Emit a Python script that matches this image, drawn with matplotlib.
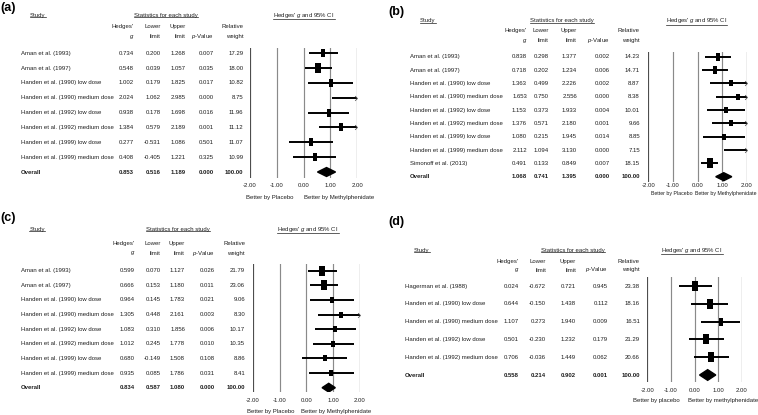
import matplotlib
matplotlib.use("Agg")
import matplotlib.pyplot as plt
import matplotlib.transforms as mtransforms
from matplotlib.path import Path
from matplotlib.lines import Line2D
import numpy as np

plt.rcParams['font.family'] = ['Liberation Sans', 'DejaVu Sans']
plt.rcParams['mathtext.fontset'] = 'custom'
plt.rcParams['mathtext.rm'] = 'Liberation Sans'
plt.rcParams['mathtext.it'] = 'Liberation Sans:italic'

# ---------------- data ----------------
tick_values = [-2, -1, 0, 1, 2]
tick_labels = ["-2.00", "-1.00", "0.00", "1.00", "2.00"]

studies_a = ["Aman et al. (1993)", "Aman et al. (1997)",
             "Handen et al. (1990) low dose", "Handen et al. (1990) medium dose",
             "Handen et al. (1992) low dose", "Handen et al. (1992) medium dose",
             "Handen et al. (1999) low dose", "Handen et al. (1999) medium dose"]
g_a = [0.734, 0.548, 1.002, 2.024, 0.938, 1.384, 0.277, 0.408]
lo_a = [0.200, 0.039, 0.179, 1.062, 0.178, 0.579, -0.531, -0.405]
hi_a = [1.268, 1.057, 1.825, 2.985, 1.698, 2.189, 1.086, 1.221]
p_a = [0.007, 0.035, 0.017, 0.000, 0.016, 0.001, 0.501, 0.325]
w_a = [17.29, 18.00, 10.82, 8.75, 11.96, 11.12, 11.07, 10.99]
overall_a = [0.853, 0.516, 1.189, 0.000, 100.00]

studies_b = ["Aman et al. (1993)", "Aman et al. (1997)",
             "Handen et al. (1990) low dose", "Handen et al. (1990) medium dose",
             "Handen et al. (1992) low dose", "Handen et al. (1992) medium dose",
             "Handen et al. (1999) low dose", "Handen et al. (1999) medium dose",
             "Simonoff et al. (2013)"]
g_b = [0.838, 0.718, 1.363, 1.653, 1.153, 1.376, 1.080, 2.112, 0.491]
lo_b = [0.298, 0.202, 0.499, 0.750, 0.373, 0.571, 0.215, 1.094, 0.133]
hi_b = [1.377, 1.234, 2.226, 2.556, 1.933, 2.180, 1.945, 3.130, 0.849]
p_b = [0.002, 0.006, 0.002, 0.000, 0.004, 0.001, 0.014, 0.000, 0.007]
w_b = [14.23, 14.71, 8.87, 8.38, 10.01, 9.66, 8.85, 7.15, 18.15]
overall_b = [1.068, 0.741, 1.395, 0.000, 100.00]

studies_c = ["Aman et al. (1993)", "Aman et al. (1997)",
             "Handen et al. (1990) low dose", "Handen et al. (1990) medium dose",
             "Handen et al. (1992) low dose", "Handen et al. (1992) medium dose",
             "Handen et al. (1999) low dose", "Handen et al. (1999) medium dose"]
g_c = [0.599, 0.666, 0.964, 1.305, 1.083, 1.012, 0.680, 0.935]
lo_c = [0.070, 0.153, 0.145, 0.448, 0.310, 0.245, -0.149, 0.085]
hi_c = [1.127, 1.180, 1.783, 2.161, 1.856, 1.778, 1.508, 1.786]
p_c = [0.026, 0.011, 0.021, 0.003, 0.006, 0.010, 0.108, 0.031]
w_c = [21.79, 23.06, 9.06, 8.30, 10.17, 10.35, 8.86, 8.41]
overall_c = [0.834, 0.587, 1.080, 0.000, 100.00]

studies_d = ["Hagerman et al. (1988)", "Handen et al. (1990) low dose",
             "Handen et al. (1990) medium dose", "Handen et al. (1992) low dose",
             "Handen et al. (1992) medium dose"]
g_d = [0.024, 0.644, 1.107, 0.501, 0.706]
lo_d = [-0.672, -0.150, 0.273, -0.230, -0.036]
hi_d = [0.721, 1.438, 1.940, 1.232, 1.449]
p_d = [0.945, 0.112, 0.009, 0.179, 0.062]
w_d = [23.38, 18.16, 16.51, 21.29, 20.66]
overall_d = [0.558, 0.214, 0.902, 0.001, 100.00]

# ---------------- layout (pixels) ----------------
W, H = 758, 415
fig = plt.figure(figsize=(W / 100, H / 100), dpi=100)

FS = 4.3
TXT = '#1e1e1e'

panels = [
    dict(label="(a)", data=(studies_a, g_a, lo_a, hi_a, p_a, w_a, overall_a),
         lab=(0.5, 7.5), study=(30, 15), stat_cx=166, ci_cx=304, hdr_y=15,
         col_y=(26.7, 36.7), cols=[134, 160.5, 185.5, 213.5, 243.5], name_x=20.7,
         row0=53.3, rowN=172, px=(250, 357.3), py=(48, 178), tick_y=186.5,
         better_y=197, plac_r=293.3, meth_l=304, lower=False, bfs=FS),
    dict(label="(b)", data=(studies_b, g_b, lo_b, hi_b, p_b, w_b, overall_b),
         lab=(388, 11.7), study=(420, 20.5), stat_cx=561.7, ci_cx=696.7, hdr_y=20.5,
         col_y=(30.5, 40.8), cols=[527, 549, 577, 610, 640], name_x=410,
         row0=56.7, rowN=176.7, px=(648.3, 746.7), py=(51.7, 181.7), tick_y=186.7,
         better_y=193, plac_r=693, meth_l=695, lower=False, bfs=3.8),
    dict(label="(c)", data=(studies_c, g_c, lo_c, hi_c, p_c, w_c, overall_c),
         lab=(0.5, 218), study=(29.3, 229), stat_cx=178, ci_cx=308, hdr_y=229,
         col_y=(243, 253), cols=[135, 160.5, 185, 214.5, 245], name_x=20.7,
         row0=270.7, rowN=387.7, px=(252.7, 360), py=(264, 392), tick_y=401,
         better_y=411.5, plac_r=294, meth_l=300.7, lower=False, bfs=FS),
    dict(label="(d)", data=(studies_d, g_d, lo_d, hi_d, p_d, w_d, overall_d),
         lab=(388, 222), study=(414, 250), stat_cx=572.7, ci_cx=692, hdr_y=250,
         col_y=(261.7, 270), cols=[519, 546, 576, 608, 640], name_x=405,
         row0=286, rowN=375, px=(647.3, 741.7), py=(276.7, 381.7), tick_y=391.7,
         better_y=400, plac_r=680, meth_l=687.7, lower=True, bfs=FS),
]

rect_marker = Path([(-0.55, -1), (0.55, -1), (0.55, 1), (-0.55, 1), (-0.55, -1)],
                   [Path.MOVETO, Path.LINETO, Path.LINETO, Path.LINETO, Path.CLOSEPOLY])
chevron = Path([(-1, 1), (0, 0), (-1, -1)], [Path.MOVETO, Path.LINETO, Path.LINETO])

underlined = []


def fx(px):
    return px / W


def fy(py):
    return 1 - py / H


for P in panels:
    studies, g, lo, hi, pv, wt, ov = P['data']
    n = len(studies)
    step = (P['rowN'] - P['row0']) / n
    x0, x1 = P['px']
    ytop, ybot = P['py']
    ax = fig.add_axes([fx(x0), fy(ybot), (x1 - x0) / W, (ybot - ytop) / H])
    ax.set_xlim(-2, 2)
    ax.set_ylim((ybot - P['row0']) / step, (ytop - P['row0']) / step)
    ax.patch.set_alpha(0)
    for s in ax.spines.values():
        s.set_visible(False)
    ax.set_yticks([])
    ax.set_xticks(tick_values)
    ax.set_xticklabels(tick_labels)
    pad_px = P['tick_y'] - ybot - 3.4
    ax.tick_params(axis='x', length=0, pad=pad_px * 0.72, labelsize=FS, labelcolor=TXT)

    for tv in tick_values:
        col = '#4d4d4d' if abs(tv) == 2 else '#8a8a8a'
        ax.axvline(tv, color=col, lw=0.85, zorder=1)

    # studies
    for i in range(n):
        right = min(hi[i], 2)
        left = max(lo[i], -2)
        ax.plot([left, right], [i, i], color='black', lw=1.4, solid_capstyle='butt', zorder=3)
        if hi[i] > 2:
            ax.plot([2], [i], marker=chevron, ms=3.4, mfc='none', mec='#555555', mew=0.6,
                    linestyle='none', zorder=4, clip_on=False)
        if -2 <= g[i] <= 2:
            hpx = 2.15 * np.sqrt(wt[i])
            ax.plot([g[i]], [i], marker=rect_marker, ms=hpx * 0.72, color='black', mew=0,
                    linestyle='none', zorder=5)
    # overall diamond
    og, olo, ohi = ov[0], ov[1], ov[2]
    ax.fill([olo, og, ohi, og], [n, n - 0.3, n, n + 0.3], color='black', zorder=5)

    # table text
    tr = mtransforms.blended_transform_factory(fig.transFigure, ax.transData)
    for i in range(n):
        ax.text(fx(P['name_x']), i, studies[i], transform=tr, ha='left', va='center',
                fontsize=FS, color=TXT, clip_on=False)
        vals = [f"{g[i]:.3f}", f"{lo[i]:.3f}", f"{hi[i]:.3f}", f"{pv[i]:.3f}", f"{wt[i]:.2f}"]
        for cx, v in zip(P['cols'], vals):
            ax.text(fx(cx), i, v, transform=tr, ha='right', va='center', fontsize=FS,
                    color=TXT, clip_on=False)
    ax.text(fx(P['name_x']), n, "Overall", transform=tr, ha='left', va='center',
            fontsize=FS, color=TXT, fontweight='bold', clip_on=False)
    ovals = [f"{ov[0]:.3f}", f"{ov[1]:.3f}", f"{ov[2]:.3f}", f"{ov[3]:.3f}", f"{ov[4]:.2f}"]
    for cx, v in zip(P['cols'], ovals):
        ax.text(fx(cx), n, v, transform=tr, ha='right', va='center', fontsize=FS,
                color=TXT, fontweight='bold', clip_on=False)

    # headers
    fig.text(fx(P['lab'][0]), fy(P['lab'][1]), P['label'], fontsize=9, fontweight='bold',
             ha='left', va='center', color='black')
    t1 = fig.text(fx(P['study'][0]), fy(P['hdr_y']), "Study", fontsize=FS, ha='left',
                  va='center', color=TXT)
    t2 = fig.text(fx(P['stat_cx']), fy(P['hdr_y']), "Statistics for each study",
                  fontsize=FS, ha='center', va='center', color=TXT)
    t3 = fig.text(fx(P['ci_cx']), fy(P['hdr_y']), "Hedges' $g$ and 95% CI",
                  fontsize=FS, ha='center', va='center', color=TXT)
    underlined.extend([t1, t2, t3])
    y1, y2 = P['col_y']
    c = P['cols']
    hdr1 = ["Hedges'", "Lower", "Upper", "", "Relative"]
    hdr2 = ["$g$", "limit", "limit", "$p$-Value", "weight"]
    for cx, a, b in zip(c, hdr1, hdr2):
        if a:
            fig.text(fx(cx), fy(y1), a, fontsize=FS, ha='right', va='center', color=TXT)
        fig.text(fx(cx), fy(y2), b, fontsize=FS, ha='right', va='center', color=TXT)

    plac = "Better by placebo" if P['lower'] else "Better by Placebo"
    meth = "Better by methylphenidate" if P['lower'] else "Better by Methylphenidate"
    fig.text(fx(P['plac_r']), fy(P['better_y']), plac, fontsize=P['bfs'], ha='right',
             va='center', color=TXT)
    fig.text(fx(P['meth_l']), fy(P['better_y']), meth, fontsize=P['bfs'], ha='left',
             va='center', color=TXT)

# underline headers
fig.canvas.draw()
renderer = fig.canvas.get_renderer()
for t in underlined:
    bb = t.get_window_extent(renderer)
    yl = bb.y0 + 0.3
    fig.add_artist(Line2D([bb.x0, bb.x1], [yl, yl], transform=mtransforms.IdentityTransform(),
                          color=TXT, lw=0.5))

fig.savefig("out.png", dpi=100)
